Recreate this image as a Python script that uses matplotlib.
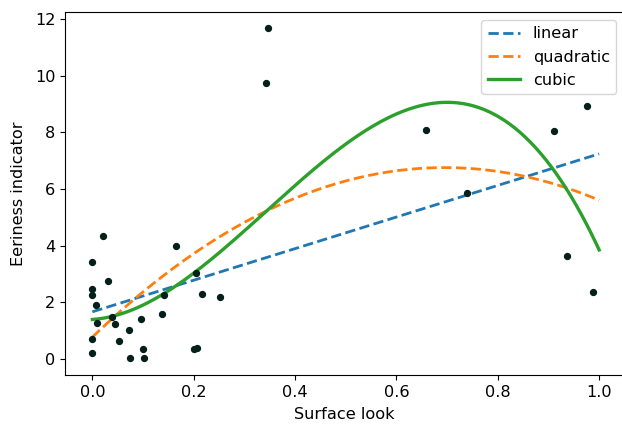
import numpy as np
import matplotlib
matplotlib.use("Agg")
import matplotlib.pyplot as plt

surface_look = [0.020, 0.000, 0.030, 0.000, 0.000, 0.008, 0.010, 0.038, 0.044,
                0.000, 0.000, 0.053, 0.072, 0.075, 0.095, 0.100, 0.102, 0.137,
                0.142, 0.165, 0.204, 0.217, 0.251, 0.201, 0.206, 0.346, 0.342,
                0.659, 0.740, 0.910, 0.976, 0.936, 0.988]
eeriness = [4.35, 3.42, 2.74, 2.47, 2.26, 1.90, 1.26, 1.47, 1.22,
            0.72, 0.22, 0.63, 1.03, 0.02, 1.42, 0.35, 0.02, 1.58,
            2.26, 3.98, 3.04, 2.30, 2.19, 0.37, 0.40, 11.66, 9.73,
            8.08, 5.87, 8.06, 8.92, 3.62, 2.38]

fit_names = ["linear", "quadratic", "cubic"]
fit_degrees = [1, 2, 3]
fit_styles = ["--", "--", "-"]
fit_colors = ["#1f77b4", "#ff7f0e", "#2ca02c"]
fit_widths = [2.0, 2.0, 2.4]

fs = 11.6
fig = plt.figure(figsize=(6.22, 4.29), dpi=100)
# right spine sits just past the image edge, as in the reference
ax = fig.add_axes([0.1045, 0.1259, 0.8995, 0.8462])

x = np.array(surface_look)
y = np.array(eeriness)
ax.scatter(x, y, s=18, color="#05201a", zorder=3)

xs = np.linspace(0, 1, 200)
for name, deg, ls, c, lw in zip(fit_names, fit_degrees, fit_styles, fit_colors, fit_widths):
    coef = np.polyfit(x, y, deg)
    ax.plot(xs, np.polyval(coef, xs), ls, color=c, lw=lw, label=name)

ax.set_xlim(-0.054, 1.05)
ax.set_xlabel("Surface look", fontsize=fs, labelpad=5.5)
ax.set_ylabel("Eeriness indicator", fontsize=fs, labelpad=6)
ax.tick_params(labelsize=fs)
ax.legend(loc="upper right", fontsize=fs)
fig.savefig("out.png", dpi=100)
